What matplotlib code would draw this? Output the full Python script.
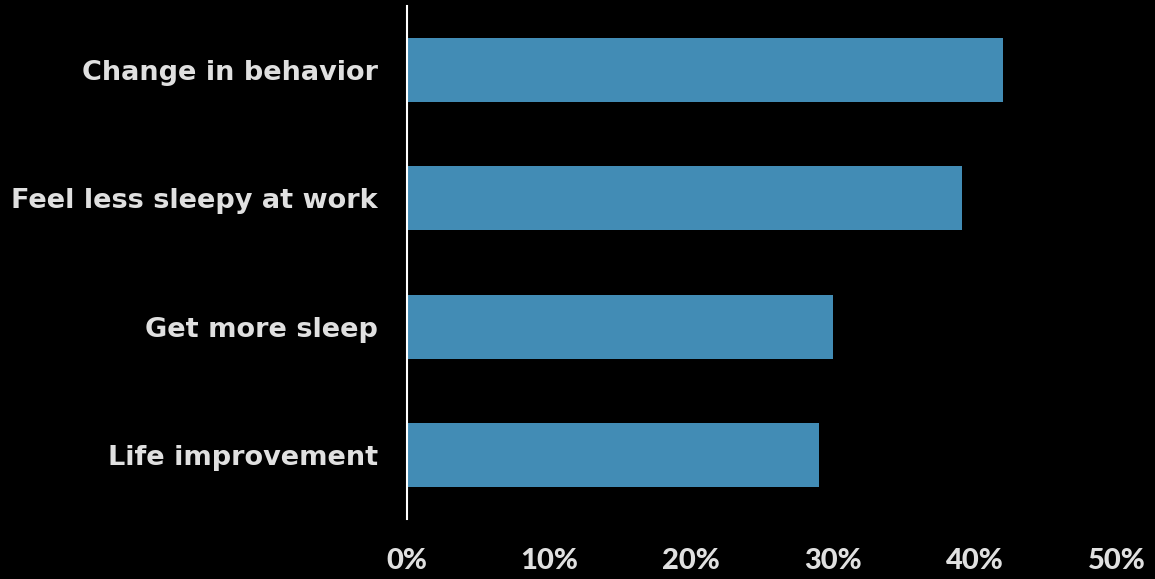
import matplotlib
matplotlib.use("Agg")
import matplotlib.pyplot as plt
from matplotlib.ticker import FuncFormatter

categories = ["Change in behavior", "Feel less sleepy at work", "Get more sleep", "Life improvement"]
values = [42.0, 39.1, 30.0, 29.0]
xticks = [0, 10, 20, 30, 40, 50]

bar_color = "#428CB5"
text_color = "#E0E0E0"

fig = plt.figure(figsize=(11.55, 5.79), dpi=100, facecolor="black")
ax = fig.add_axes([407 / 1155, 1 - 519 / 579, 710 / 1155, 513 / 579], facecolor="black")

pos = list(range(len(categories)))
ax.barh(pos, values, height=0.5, color=bar_color)
ax.set_ylim(len(categories) - 0.5, -0.5)
ax.set_xlim(0, 50)

ax.set_yticks(pos)
ax.set_yticklabels(categories)
ax.set_xticks(xticks)
ax.xaxis.set_major_formatter(FuncFormatter(lambda v, _: f"{v:.0f}%"))

for s in ["top", "right", "bottom"]:
    ax.spines[s].set_visible(False)
ax.spines["left"].set_color("white")
ax.spines["left"].set_linewidth(1.5)

ax.tick_params(axis="both", length=0, colors=text_color)
ax.tick_params(axis="x", pad=21, labelsize=21)
ax.tick_params(axis="y", pad=21, labelsize=19.5)
for lab in ax.get_xticklabels():
    lab.set_fontfamily("Lato")
    lab.set_fontweight(900)
for lab in ax.get_yticklabels():
    lab.set_fontfamily("DejaVu Sans")
    lab.set_fontweight("bold")

fig.savefig("out.png", dpi=100, facecolor="black")
